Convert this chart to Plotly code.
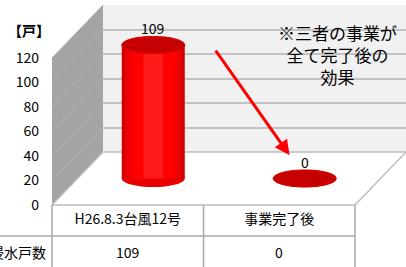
import plotly.graph_objects as go

# ---------------- data ----------------
categories = ["H26.8.3台風12号", "事業完了後"]
values = [109, 0]
row_label = "浸水戸数"
y_ticks = [0, 20, 40, 60, 80, 100, 120]
unit_label = "【戸】"
note_lines = ["※三者の事業が", "全て完了後の", "効果"]

# ---------------- geometry (pixels) ----------------
W, H = 406, 267
FRONT_L, FRONT_R, FRONT_BASE = 52, 355, 205
PPU = 1.225          # pixels per data unit
DX, DY = 51, 53      # depth offset of the back wall
YMAX = 120
YMIN_MID = -20
ROW_Y = 236
FONT = "Noto Sans CJK JP"
RED_BODY = ["#D00000", "#EC0000", "#FF0000", "#FF1A1A"]
BAR_W = [0.416, 0.37, 0.29, 0.13]
ELL_H = 7.0          # half height of cylinder ellipses (data units)


def fx(p):
    return p / W


def fy(p):
    return 1 - p / H


def path(points):
    return "M " + " L ".join(f"{fx(a)},{fy(b)}" for a, b in points) + " Z"


mid_base = FRONT_BASE - DY / 2
fig = go.Figure()

# empty traces so every subplot is created
fig.add_trace(go.Scatter(x=[], y=[], xaxis="x", yaxis="y", showlegend=False))
fig.add_trace(go.Scatter(x=categories, y=[None, None], xaxis="x3", yaxis="y3", showlegend=False))

# cylinders (bars with a simple shading)
for w, c in zip(BAR_W, RED_BODY):
    fig.add_trace(go.Bar(x=categories, y=values, width=w, marker_color=c,
                         marker_line_width=0, xaxis="x2", yaxis="y2",
                         showlegend=False, hoverinfo="skip"))

shapes = []
# back wall
shapes.append(dict(type="rect", xref="paper", yref="paper",
                   x0=fx(FRONT_L + DX), x1=fx(FRONT_R + DX),
                   y0=fy(FRONT_BASE - DY), y1=fy(FRONT_BASE - DY - YMAX * PPU),
                   fillcolor="#F1F1F1", line=dict(width=0), layer="below"))
# side wall
shapes.append(dict(type="path", xref="paper", yref="paper", layer="below",
                   path=path([(FRONT_L, FRONT_BASE - YMAX * PPU),
                              (FRONT_L + DX, FRONT_BASE - DY - YMAX * PPU),
                              (FRONT_L + DX, FRONT_BASE - DY),
                              (FRONT_L, FRONT_BASE)]),
                   fillcolor="#A4A4A4", line=dict(width=0)))
for t in y_ticks:
    shapes.append(dict(type="line", xref="paper", yref="paper", layer="below",
                       x0=fx(FRONT_L), y0=fy(FRONT_BASE - t * PPU),
                       x1=fx(FRONT_L + DX), y1=fy(FRONT_BASE - DY - t * PPU),
                       line=dict(color="#B4B4B4", width=1)))
# floor
shapes.append(dict(type="path", xref="paper", yref="paper", layer="below",
                   path=path([(FRONT_L, FRONT_BASE), (FRONT_R, FRONT_BASE),
                              (FRONT_R + DX, FRONT_BASE - DY),
                              (FRONT_L + DX, FRONT_BASE - DY)]),
                   fillcolor="#FFFFFF", line=dict(color="#BDBDBD", width=1.5)))
# table lines
col_mid = (FRONT_L + FRONT_R) / 2
for (x0, y0, x1, y1) in [(0, ROW_Y, FRONT_R, ROW_Y),
                         (FRONT_L, FRONT_BASE, FRONT_L, H),
                         (col_mid, FRONT_BASE, col_mid, H),
                         (FRONT_R, FRONT_BASE, FRONT_R, H)]:
    shapes.append(dict(type="line", xref="paper", yref="paper",
                       x0=fx(x0), y0=fy(y0), x1=fx(x1), y1=fy(y1),
                       line=dict(color="#A8A8A8", width=1.5)))

# cylinder ends
for i, v in enumerate(values):
    shapes.append(dict(type="circle", xref="x2", yref="y2", layer="below",
                       x0=i - BAR_W[0] / 2, x1=i + BAR_W[0] / 2,
                       y0=-ELL_H, y1=ELL_H,
                       fillcolor="#E80000", line=dict(width=0)))
    shapes.append(dict(type="circle", xref="x2", yref="y2", layer="above",
                       x0=i - BAR_W[0] / 2, x1=i + BAR_W[0] / 2,
                       y0=v - ELL_H, y1=v + ELL_H,
                       fillcolor="#C60000", line=dict(color="#DD0000", width=1)))

annotations = []
# value labels
for i, v in enumerate(values):
    annotations.append(dict(xref="x2", yref="y2", x=i, y=v, yshift=17,
                            xanchor="center", yanchor="middle",
                            text=str(v), showarrow=False,
                            font=dict(size=14, color="#000", family=FONT)))
    annotations.append(dict(xref="x3", yref="paper", x=i, y=fy((ROW_Y + H) / 2),
                            xanchor="center", yanchor="middle",
                            text=str(v), showarrow=False,
                            font=dict(size=14, color="#000", family=FONT)))
annotations.append(dict(xref="paper", yref="paper", x=fx(48), y=fy((ROW_Y + H) / 2),
                        xanchor="right", yanchor="middle", text=row_label, showarrow=False,
                        font=dict(size=14, color="#000", family=FONT)))
annotations.append(dict(xref="paper", yref="paper", x=fx(29), y=fy(30),
                        xanchor="center", yanchor="middle",
                        text="<b>" + unit_label + "</b>", showarrow=False,
                        font=dict(size=14, color="#000", family=FONT)))
annotations.append(dict(xref="paper", yref="paper", x=fx(337), y=fy(54),
                        xanchor="center", yanchor="middle",
                        text="<br>".join(note_lines), showarrow=False, align="center",
                        font=dict(size=17, color="#000", family=FONT)))
# arrow
annotations.append(dict(xref="x2", yref="y2", x=1 - 0.1, y=values[1] + 19,
                        ax=-75, ay=-106, text="", showarrow=True,
                        arrowhead=2, arrowsize=1, arrowwidth=3, arrowcolor="#FF0000"))

axis_off = dict(showgrid=False, zeroline=False, showline=False,
                showticklabels=False, ticks="", automargin=False)
fig.update_layout(
    template="none",
    width=W, height=H, margin=dict(l=0, r=0, t=0, b=0, pad=0, autoexpand=False),
    paper_bgcolor="#FFFFFF", plot_bgcolor="rgba(0,0,0,0)",
    barmode="overlay", showlegend=False,
    font=dict(family=FONT, color="#000"),
    # back wall (gridlines)
    xaxis=dict(domain=[fx(FRONT_L + DX), fx(FRONT_R + DX)], range=[0, 1],
               anchor="y", **axis_off),
    yaxis=dict(domain=[fy(FRONT_BASE - DY), fy(FRONT_BASE - DY - YMAX * PPU)],
               range=[0, YMAX], anchor="x", tickvals=y_ticks,
               showgrid=True, gridcolor="#C2C2C2", gridwidth=2, automargin=False,
               zeroline=False, showline=False, showticklabels=False, ticks=""),
    # cylinders (mid depth)
    xaxis2=dict(domain=[fx(FRONT_L + DX / 2), fx(FRONT_R + DX / 2)],
                range=[-0.5, 1.5], type="category", anchor="y2", **axis_off),
    yaxis2=dict(domain=[fy(mid_base - YMIN_MID * PPU), fy(mid_base - YMAX * PPU)],
                range=[YMIN_MID, YMAX], anchor="x2", **axis_off),
    # front plane: value ticks + category labels
    xaxis3=dict(domain=[fx(FRONT_L), fx(FRONT_R)], range=[-0.5, 1.5],
                type="category", anchor="y3", showgrid=False, zeroline=False,
                showline=False, ticks="", ticklabelstandoff=4, automargin=False,
                tickfont=dict(size=14, color="#000", family=FONT)),
    yaxis3=dict(domain=[fy(FRONT_BASE), fy(FRONT_BASE - YMAX * PPU)],
                range=[0, YMAX], anchor="x3", tickvals=y_ticks,
                showgrid=False, zeroline=False, showline=False, ticks="",
                ticklabelstandoff=12, automargin=False,
                tickfont=dict(size=14, color="#000", family=FONT)),
    shapes=shapes, annotations=annotations,
)

fig.write_html("out.html", config={"displayModeBar": False},
               post_script="document.body.style.margin='0';document.body.style.overflow='hidden';")
